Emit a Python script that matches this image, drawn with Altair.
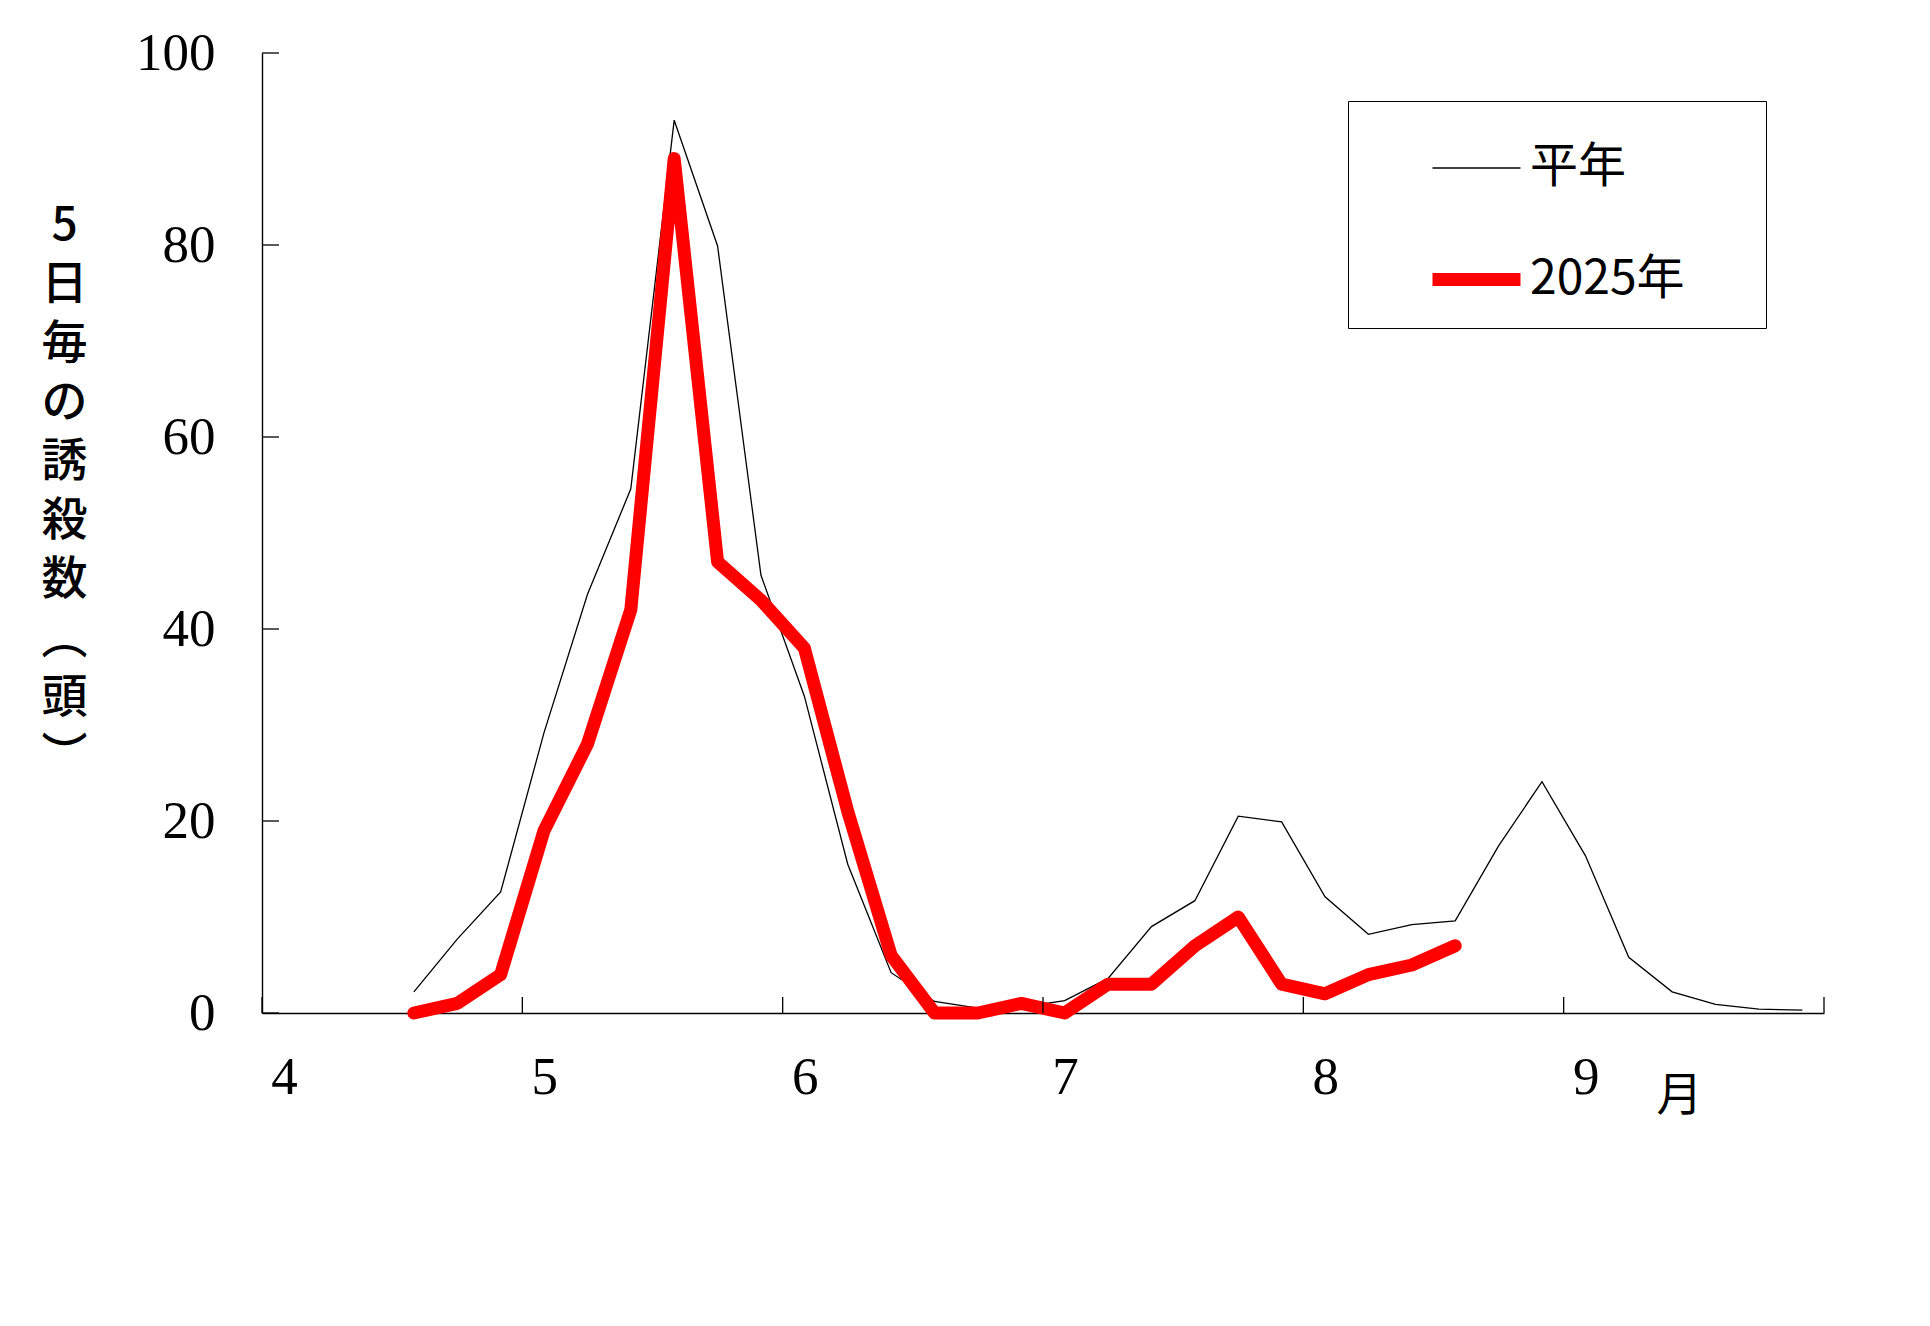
import altair as alt
import pandas as pd

# 5-day periods counted from 1 April (6 periods per month); index 3 = 16-20 April
avg_periods = list(range(3, 36))
avg_counts = [2.2, 7.7, 12.6, 29.2, 43.6, 54.6,
              93.0, 79.9, 45.6, 33.0, 15.5, 4.2,
              1.2, 0.5, 0.6, 1.3, 3.6, 9.0,
              11.7, 20.5, 19.9, 12.1, 8.2, 9.2,
              9.6, 17.4, 24.1, 16.4, 5.8, 2.2,
              0.9, 0.4, 0.3]

cur_periods = list(range(3, 28))
cur_counts = [0, 1, 4, 19, 28, 42,
              89, 47, 43, 38, 21, 6,
              0, 0, 1, 0, 3, 3,
              7, 10, 3, 2, 4, 5,
              7]

series_names = ["平年", "2025年"]
series_colors = ["#000000", "#ff0000"]
series_widths = [1.3, 13]

month_labels = ["4", "5", "6", "7", "8", "9"]
month_ticks = [0, 6, 12, 18, 24, 30, 36]
y_ticks = [0, 20, 40, 60, 80, 100]

W, H = 1562, 960

avg_df = pd.DataFrame({"period": avg_periods, "count": avg_counts, "series": series_names[0]})
cur_df = pd.DataFrame({"period": cur_periods, "count": cur_counts, "series": series_names[1]})
for df in (avg_df, cur_df):
    df["pos"] = df["period"] + 0.5  # middle of each 5-day period

label_expr = "[" + ",".join(f"'{m}'" for m in month_labels) + "][round(datum.value / 6)]"

x_enc = alt.X(
    "pos:Q",
    scale=alt.Scale(domain=[0, 36], nice=False, zero=False),
    axis=alt.Axis(
        values=month_ticks[:-1], labelExpr=label_expr, tickSize=0, grid=False,
        labelFlush=False, labelOffset=22, labelPadding=38,
        labelFont="Liberation Serif", labelFontSize=53,
        labelColor="black", domainColor="black", domainWidth=1.6,
        title="月", titleAngle=0, titleAlign="center", titleBaseline="middle",
        titleX=1417, titleY=82, titleFont="Noto Sans CJK JP", titleFontSize=46,
        titleFontWeight="normal", titleColor="black",
    ),
)
y_enc = alt.Y(
    "count:Q",
    scale=alt.Scale(domain=[0, 100], nice=False),
    axis=alt.Axis(
        values=y_ticks, tickSize=0, grid=False, labelPadding=47,
        labelFont="Liberation Serif", labelFontSize=53, labelColor="black",
        domainColor="black", domainWidth=1.4,
        title=["5", "日", "毎", "の", "誘", "殺", "数", "︵", "頭", "︶"],
        titleAngle=0, titleAlign="center", titleBaseline="middle",
        titleX=-198, titleY=172, titleFont="Noto Sans CJK JP", titleFontSize=46,
        titleLineHeight=59, titleFontWeight=500, titleColor="black",
    ),
)

# a trailing blank widens the framed legend to the right
legend = alt.Legend(
    title=None, orient="none", legendX=1086, legendY=48,
    symbolType="stroke", symbolSize=7744, symbolOffset=56,
    labelFont="Noto Sans CJK JP", labelFontSize=48, labelColor="black",
    labelOffset=3, labelLimit=600, labelExpr="datum.label + '\u2002\u2800'",
    padding=22, rowPadding=37,
    strokeColor="black", fillColor="white",
)

color_enc = alt.Color("series:N", scale=alt.Scale(domain=series_names, range=series_colors), legend=legend)
width_enc = alt.StrokeWidth("series:N", scale=alt.Scale(domain=series_names, range=series_widths), legend=legend)

avg_line = alt.Chart(avg_df).mark_line(strokeJoin="miter").encode(
    x=x_enc, y=y_enc, color=color_enc, strokeWidth=width_enc
)
cur_line = alt.Chart(cur_df).mark_line(strokeCap="round", strokeJoin="round").encode(
    x=x_enc, y=y_enc, color=color_enc, strokeWidth=width_enc
)

# inward tick marks on both axes
y_tick_rules = alt.Chart(pd.DataFrame({"v": y_ticks})).mark_rule(color="black", strokeWidth=1.3).encode(
    y=alt.Y("v:Q", scale=alt.Scale(domain=[0, 100], nice=False)),
    x=alt.value(0), x2=alt.value(17),
)
x_tick_rules = alt.Chart(pd.DataFrame({"v": month_ticks})).mark_rule(color="black", strokeWidth=1.3).encode(
    x=alt.X("v:Q", scale=alt.Scale(domain=[0, 36], nice=False, zero=False)),
    y=alt.value(H - 16), y2=alt.value(H),
)

chart = alt.layer(avg_line, cur_line, y_tick_rules, x_tick_rules).properties(
    width=W, height=H,
    autosize=alt.AutoSizeParams(type="none"),
    padding={"left": 262, "top": 53, "right": 106, "bottom": 313},
    background="white",
).configure_view(stroke=None)

chart.save("out.html", embed_options={"renderer": "svg", "actions": False})
